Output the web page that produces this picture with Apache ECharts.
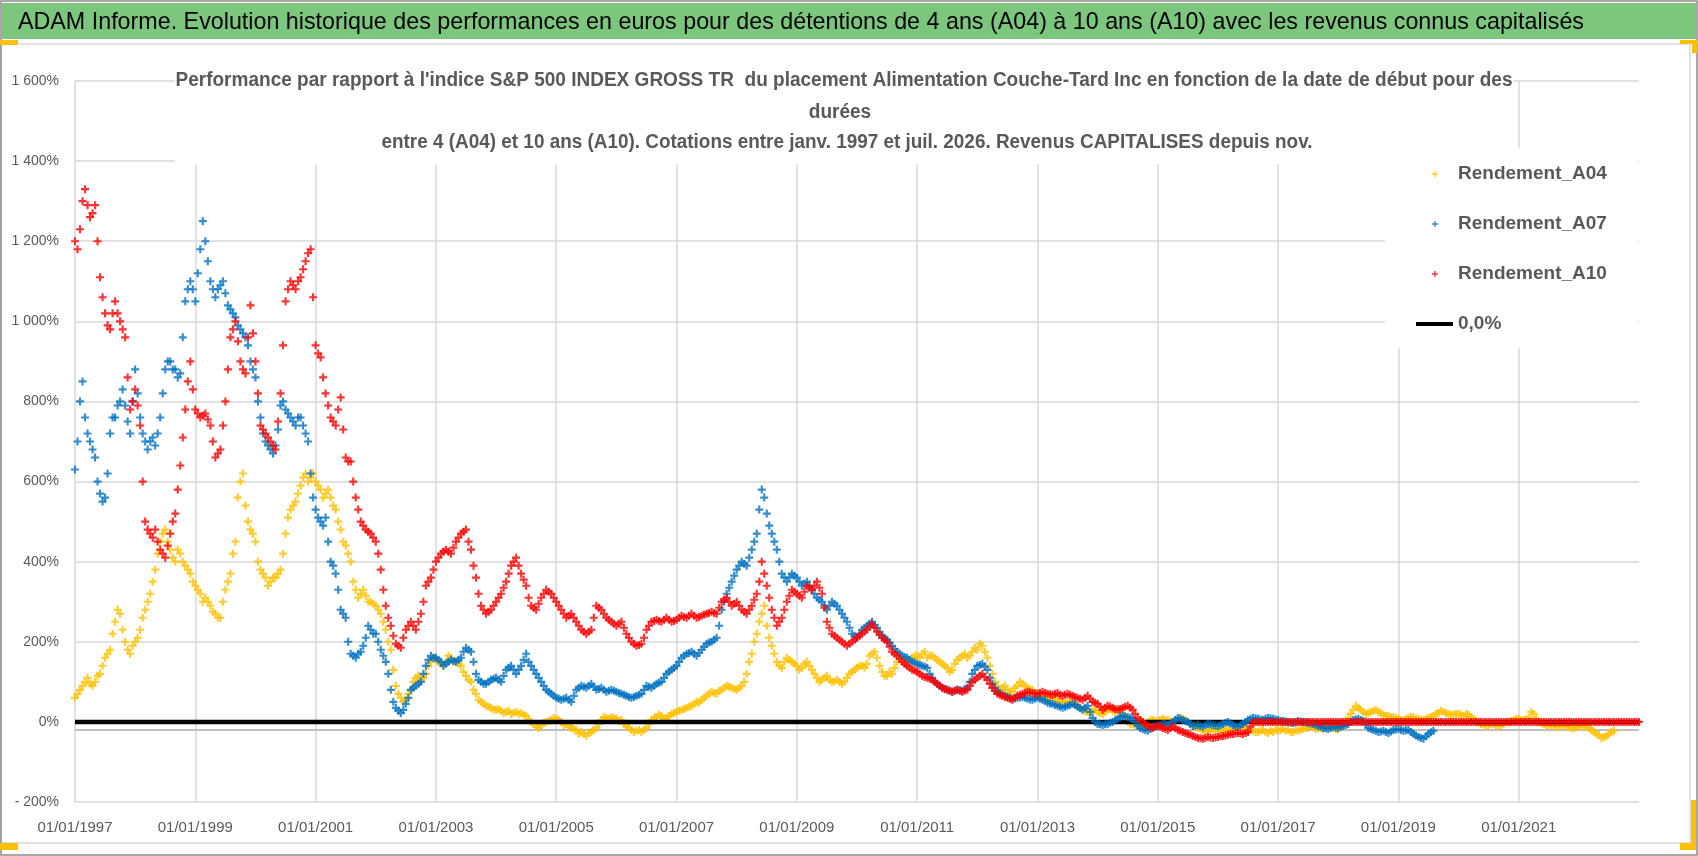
<!DOCTYPE html>
<html><head><meta charset="utf-8">
<script src="https://cdn.jsdelivr.net/npm/echarts@6/dist/echarts.min.js"></script>
<style>html,body{margin:0;padding:0;background:#fff}#c{width:1698px;height:856px}</style>
</head><body><div id="c"></div>
<script>
// ---- data: readings at the start of each month (first = January 1997) and mid-month readings ----
const FIRST_YEAR = 1997;
const LAST_YEAR = 2023;
const xTickYears = [1997,1999,2001,2003,2005,2007,2009,2011,2013,2015,2017,2019,2021];
const yTicks = [-200,0,200,400,600,800,1000,1200,1400,1600];
const AXIS_CROSS = -20;
const ZERO_LEVEL = [0, 0];
const seriesNames = ['Rendement_A04','Rendement_A07','Rendement_A10','0,0%'];

const A04 = [
 60,80,100,95,100,120,160,180,250,270,200,170,
 200,230,280,320,380,450,480,430,400,420,390,370,
 340,320,310,290,270,260,330,370,450,600,540,480,
 450,380,360,350,360,380,470,530,550,590,620,610,
 600,580,570,560,530,480,440,400,330,320,315,300,
 290,270,230,180,90,60,55,80,110,105,120,150,
 155,145,150,160,150,140,115,100,70,50,40,35,
 30,28,25,20,25,22,15,0,-12,-8,0,5,
 8,0,-5,-15,-20,-25,-35,-25,-15,5,10,12,
 8,5,-10,-20,-22,-25,-15,5,12,15,10,20,
 25,30,35,40,50,55,65,75,70,80,90,85,
 80,90,120,170,220,270,240,190,150,135,160,150,
 140,135,150,130,110,105,115,100,105,95,110,125,
 135,140,145,170,160,125,115,120,150,155,150,160,
 165,170,160,165,155,145,135,130,155,165,160,175,
 180,190,160,120,90,85,80,75,90,95,85,80,
 70,65,60,58,55,50,52,48,40,30,25,28,
 25,20,30,28,32,20,0,-5,-8,-5,0,5,
 2,8,5,0,5,8,0,-10,-15,-20,-22,-18,
 -20,-22,-18,-20,-15,-12,-18,-22,-25,-20,-28,-25,
 -22,-18,-20,-25,-22,-18,-15,-12,-15,-18,-12,-15,
 -18,-10,10,30,35,25,22,28,25,18,15,12,
 8,5,10,12,8,5,10,15,22,25,20,18,
 20,15,18,8,-2,-5,-8,-5,-10,-5,0,5,
 8,5,10,20,0,-5,-8,-10,-12,-8,-12,-15,
 -12,-10,-15,-25,-32,-38,-30,-22
];
const A04_MID = [
 70,90,110,90,115,140,170,220,280,230,180,190,
 210,260,300,350,420,470,450,410,430,400,380,350,
 330,300,300,275,260,300,350,420,560,620,500,470,
 400,370,340,360,370,420,510,540,570,610,600,620,
 590,560,580,540,500,450,420,350,310,330,300,295,
 280,250,200,130,70,50,70,100,115,110,140,160,
 150,140,165,150,145,125,105,80,55,45,38,30,
 32,22,28,22,20,18,5,-5,-15,-2,2,10,
 5,-8,-10,-18,-30,-30,-28,-20,-5,12,8,10,
 2,-5,-15,-25,-20,-20,-5,10,18,8,15,22,
 28,32,38,45,48,60,70,72,78,85,88,82,
 85,100,150,200,250,290,210,170,140,150,155,145,
 130,145,140,120,100,110,105,100,100,100,120,130,
 140,135,165,175,140,115,125,135,160,145,155,165,
 160,175,165,160,150,140,125,145,160,170,165,185,
 195,175,140,100,80,90,75,85,100,90,80,72,
 68,62,55,60,52,48,50,42,35,28,22,30,
 22,25,32,25,25,10,-5,-8,-2,-8,5,2,
 5,5,2,3,10,5,-5,-12,-18,-25,-18,-22,
 -18,-20,-22,-15,-18,-15,-20,-25,-22,-25,-22,-20,
 -20,-22,-25,-20,-20,-15,-10,-18,-15,-15,-10,-18,
 -12,0,20,40,30,20,25,30,22,15,12,10,
 5,8,12,8,5,8,12,20,28,22,18,20,
 18,20,12,2,-5,-10,-5,-8,-8,0,2,8,
 5,8,25,8,-2,-10,-8,-12,-10,-10,-15,-12,
 -10,-12,-20,-30,-40,-35,-25
];
const A07 = [
 630,800,760,700,660,570,560,720,760,800,790,720,
 880,760,700,700,690,760,880,900,880,870,1050,1100,
 1050,1180,1200,1100,1060,1090,1070,1030,1010,980,960,900,
 860,760,700,680,690,790,780,760,740,760,720,620,
 530,500,510,400,370,280,260,170,160,175,210,230,
 220,180,150,80,35,22,45,80,90,100,140,165,
 160,150,145,155,150,160,185,175,120,100,95,105,
 110,100,130,140,120,140,170,140,120,100,80,70,
 60,55,60,50,80,90,85,95,80,85,75,80,
 75,70,65,60,65,70,90,85,95,100,120,130,
 140,160,170,175,165,180,195,200,210,280,320,350,
 380,400,390,430,470,580,520,470,430,370,350,370,
 360,340,350,330,310,300,280,300,290,270,250,220,
 210,230,240,250,235,215,205,190,175,165,160,150,
 145,140,135,110,95,85,80,75,80,78,85,120,
 140,145,130,95,75,68,62,58,60,62,58,55,
 60,55,48,45,40,35,40,45,38,30,40,10,
 -5,-8,-5,0,8,15,12,8,-10,-18,-22,-12,
 -10,-5,-8,0,10,5,0,-10,-8,-12,-5,-8,
 -10,-5,0,-8,-12,-5,5,10,8,5,10,8,
 5,2,0,-3,2,0,-2,-5,-10,-15,-18,-12,
 -15,-10,-5,5,8,2,-15,-20,-25,-22,-28,-20,
 -18,-22,-20,-30,-38,-42,-30,-22
];
const A07_MID = [
 700,850,720,680,600,550,620,760,790,830,750,800,
 820,720,680,710,720,820,900,880,860,960,1080,1080,
 1120,1250,1150,1080,1080,1100,1040,1020,990,970,940,880,
 800,720,690,670,730,800,770,750,760,740,700,560,
 510,490,450,390,330,270,200,165,170,190,240,220,
 200,165,120,50,28,30,60,85,95,120,155,160,
 155,140,150,152,155,175,180,150,105,95,100,108,
 105,115,135,130,130,155,150,130,110,90,75,65,
 58,58,55,65,85,88,90,88,82,80,78,78,
 72,68,62,62,68,80,88,90,98,110,125,135,
 150,165,172,170,172,188,198,205,240,300,335,365,
 390,395,410,450,530,560,490,450,400,360,360,365,
 350,345,340,320,305,290,290,295,280,260,235,215,
 220,235,245,242,225,210,198,182,170,162,155,148,
 142,138,120,100,90,82,78,78,79,82,100,130,
 142,138,110,85,72,65,60,59,61,60,56,58,
 58,52,46,42,38,38,42,42,34,35,25,0,
 -6,-6,-2,4,12,14,10,0,-15,-20,-18,-11,
 -8,-6,-4,5,8,2,-5,-9,-10,-8,-6,-9,
 -8,-2,-4,-10,-8,0,8,9,6,8,9,6,
 3,1,-2,0,1,-1,-4,-8,-12,-16,-15,-14,
 -12,-8,0,6,5,-6,-18,-22,-24,-25,-24,-19,
 -20,-21,-25,-34,-40,-36,-26
];
const A10 = [
 1200,1230,1330,1260,1290,1110,1020,980,1050,1000,960,780,
 830,740,500,470,480,430,410,470,520,640,780,900,
 780,760,770,740,660,680,800,960,1000,900,870,1040,
 900,740,720,700,680,820,1050,1100,1080,1110,1150,1180,
 940,910,820,760,740,810,660,650,560,500,480,470,
 450,380,290,240,195,185,230,250,230,270,340,360,
 400,420,430,420,450,470,480,430,360,290,270,280,
 300,320,350,390,410,370,340,290,280,310,330,320,
 300,280,260,270,250,230,220,230,290,280,260,250,
 240,250,220,200,190,195,230,250,255,250,260,250,
 255,265,260,270,260,265,270,275,270,300,310,290,
 300,280,270,290,320,400,340,280,240,260,300,330,
 320,310,340,330,350,320,250,220,210,200,190,200,
 210,220,230,245,225,210,200,175,165,150,140,130,
 125,115,110,105,95,85,80,75,80,75,80,100,
 110,120,105,85,70,65,60,55,65,70,75,72,
 70,75,70,68,72,65,70,65,60,55,65,50,
 45,30,40,35,30,35,40,30,10,0,-10,-15,
 -10,-15,-20,-12,-20,-25,-30,-35,-40,-42,-38,-40,
 -38,-35,-32,-30,-28,-30,-25,0,0,0,0,0,
 0,0,0,0,0,0,0,0,0,0,0,0,
 0,0,0,0,0,0,0,0,0,0,0,0,
 0,0,0,0,0,0,0,0,0,0,0,0,
 0,0,0,0,0,0,0,0,0,0,0,0,
 0,0,0,0,0,0,0,0,0,0,0,0,
 0,0,0,0,0,0,0,0,0,0,0,0,
 0
];
const A10_MID = [
 1180,1300,1290,1270,1200,1060,990,1020,1020,980,860,800,
 790,600,480,460,450,420,440,500,580,710,850,830,
 770,765,755,700,670,740,880,980,950,880,960,970,
 820,730,710,690,750,940,1080,1090,1100,1130,1170,1060,
 920,860,790,750,780,730,650,600,530,490,475,460,
 420,330,260,215,190,210,240,240,250,300,350,380,
 410,425,425,435,460,475,450,390,320,280,275,290,
 310,335,370,400,390,355,310,285,295,320,325,310,
 290,270,265,260,240,225,225,260,285,270,255,245,
 245,235,210,195,192,210,240,252,252,255,255,252,
 260,262,265,265,262,268,272,272,285,305,300,295,
 290,275,280,305,350,370,310,260,250,280,315,325,
 315,325,335,340,335,285,235,215,205,195,195,205,
 215,225,238,235,218,205,188,170,158,145,135,128,
 120,112,108,100,90,82,78,78,78,78,90,105,
 115,112,95,78,68,62,58,60,68,72,74,71,
 72,72,69,70,68,68,68,62,58,60,58,48,
 38,35,38,32,32,38,35,20,5,-5,-12,-12,
 -12,-18,-16,-16,-22,-28,-32,-38,-41,-40,-39,-39,
 -36,-34,-31,-29,-29,-28,-12,0,0,0,0,0,
 0,0,0,0,0,0,0,0,0,0,0,0,
 0,0,0,0,0,0,0,0,0,0,0,0,
 0,0,0,0,0,0,0,0,0,0,0,0,
 0,0,0,0,0,0,0,0,0,0,0,0,
 0,0,0,0,0,0,0,0,0,0,0,0,
 0,0,0,0,0,0,0,0,0,0,0,0
];

const TITLE = "ADAM Informe. Evolution historique des performances en euros pour des détentions de 4 ans (A04) à 10 ans (A10) avec les revenus connus capitalisés";
const SUB1 = "Performance par rapport à l'indice S&P 500 INDEX GROSS TR  du placement Alimentation Couche-Tard Inc en fonction de la date de début pour des";
const SUB2 = "durées";
const SUB3 = "entre 4 (A04) et 10 ans (A10). Cotations entre janv. 1997 et juil. 2026. Revenus CAPITALISES depuis nov.";

// ---- helpers ----
const toPoints = (start, mid) => start.map((v, i) => [i / 12, v]).concat(mid.map((v, i) => [(i + 0.5) / 12, v]));
const ctx = document.createElement('canvas').getContext('2d');
function textW(t, font) { ctx.font = font; return ctx.measureText(t).width; }
function fmtPct(v) {
  const a = Math.abs(v);
  const s = a >= 1000 ? Math.floor(a / 1000) + '\u00a0' + String(a % 1000).padStart(3, '0') : String(a);
  return (v < 0 ? '-\u00a0' : '') + s + '%';
}
const FF = "'Liberation Sans', Arial, sans-serif";
const titleFont = "24px 'Liberation Sans'";
const subFont = "bold 20px 'Liberation Sans'";
const titleScale = 1566 / textW(TITLE, titleFont);
const sub1Scale = 1337 / textW(SUB1, subFont);
const sub3Scale = 931 / textW(SUB3, subFont);

const PLUS = 'path://M3 0H5.2V3H8.2V5.2H5.2V8.2H3V5.2H0V3H3Z';
const PLUS_ICON = 'path://M0 0M37 14M18.3 4H19.7V6.3H22V7.7H19.7V10H18.3V7.7H16V6.3H18.3Z';
const LINE_ICON = 'path://M0 0M37 14M0 5H37V9H0Z';

const chart = echarts.init(document.getElementById('c'), null, {renderer: 'canvas'});
const xMin = 0, xMax = LAST_YEAR - FIRST_YEAR;

chart.setOption({
  animation: false,
  backgroundColor: '#ffffff',
  grid: {left: 75, right: 59, top: 81, bottom: 54, containLabel: false},
  xAxis: {
    type: 'value', min: xMin, max: xMax, interval: xTickYears[1] - xTickYears[0],
    axisLine: {show: false}, axisTick: {show: false},
    splitLine: {show: true, showMaxLine: false, lineStyle: {color: '#d9d9d9', width: 1.5}},
    axisLabel: {
      showMaxLabel: false, margin: 18, color: '#595959', fontSize: 15, fontFamily: FF,
      formatter: v => xTickYears.includes(FIRST_YEAR + v) ? '01/01/' + (FIRST_YEAR + v) : ''
    }
  },
  yAxis: {
    type: 'value', min: yTicks[0], max: yTicks[yTicks.length - 1], interval: yTicks[1] - yTicks[0],
    axisLine: {show: false}, axisTick: {show: false},
    splitLine: {show: true, lineStyle: {color: '#d9d9d9', width: 1.5}},
    axisLabel: {margin: 16, color: '#595959', fontSize: 14, fontFamily: FF, formatter: fmtPct}
  },
  legend: {
    orient: 'vertical', left: 1385, top: 148, padding: [14, 31, 12, 31],
    itemGap: 26, itemWidth: 37, itemHeight: 14, backgroundColor: '#ffffff',
    itemStyle: {borderWidth: 0},
    textStyle: {fontSize: 19, fontWeight: 'bold', color: '#595959', fontFamily: FF, lineHeight: 24},
    data: [
      {name: seriesNames[0], icon: PLUS_ICON},
      {name: seriesNames[1], icon: PLUS_ICON},
      {name: seriesNames[2], icon: PLUS_ICON},
      {name: seriesNames[3], icon: LINE_ICON}
    ]
  },
  series: [
    {
      name: seriesNames[0], type: 'scatter', z: 2, symbol: PLUS, symbolSize: 8,
      itemStyle: {color: '#FFC000'}, data: toPoints(A04, A04_MID),
      markLine: {silent: true, symbol: 'none', label: {show: false}, z: 1,
        lineStyle: {color: '#bfbfbf', width: 2, type: 'solid'}, data: [{yAxis: AXIS_CROSS}]}
    },
    {
      name: seriesNames[3], type: 'line', z: 3, symbol: 'none',
      lineStyle: {color: '#000000', width: 4.5}, itemStyle: {color: '#000000'},
      data: [[xMin, ZERO_LEVEL[0]], [xMax, ZERO_LEVEL[1]]]
    },
    {
      name: seriesNames[1], type: 'scatter', z: 4, symbol: PLUS, symbolSize: 8,
      itemStyle: {color: '#0070C0'}, data: toPoints(A07, A07_MID)
    },
    {
      name: seriesNames[2], type: 'scatter', z: 5, symbol: PLUS, symbolSize: 8,
      itemStyle: {color: '#FF0000'}, data: toPoints(A10, A10_MID)
    }
  ],
  graphic: [
    {type: 'rect', z: 1, silent: true, shape: {x: 175, y: 64, width: 1338, height: 100}, style: {fill: '#ffffff'}},
    {type: 'rect', z: 20, silent: true, shape: {x: 1, y: 44, width: 1689, height: 799}, style: {fill: 'none', stroke: '#d9d9d9', lineWidth: 1.5}},
    {type: 'rect', z: 20, silent: true, shape: {x: 1, y: 1, width: 1696, height: 854}, style: {fill: 'none', stroke: '#8c8c8c', lineWidth: 1.5}},
    {type: 'rect', z: 20, silent: true, shape: {x: 2, y: 3, width: 1694, height: 36}, style: {fill: '#7dc67e'}},
    {type: 'text', z: 21, silent: true, x: 18, y: 22, scaleX: titleScale,
      style: {text: TITLE, font: titleFont, fill: '#000000', textAlign: 'left', textVerticalAlign: 'middle'}},
    {type: 'text', z: 21, silent: true, x: 844, y: 80, scaleX: sub1Scale,
      style: {text: SUB1, font: subFont, fill: '#595959', textAlign: 'center', textVerticalAlign: 'middle'}},
    {type: 'text', z: 21, silent: true, x: 840, y: 112, scaleX: sub1Scale,
      style: {text: SUB2, font: subFont, fill: '#595959', textAlign: 'center', textVerticalAlign: 'middle'}},
    {type: 'text', z: 21, silent: true, x: 847, y: 142, scaleX: sub3Scale,
      style: {text: SUB3, font: subFont, fill: '#595959', textAlign: 'center', textVerticalAlign: 'middle'}},
    // selection handles
    {type: 'rect', z: 22, silent: true, shape: {x: 0, y: 40, width: 18, height: 5}, style: {fill: '#FFC000'}},
    {type: 'rect', z: 22, silent: true, shape: {x: 0, y: 843, width: 18, height: 7}, style: {fill: '#FFC000'}},
    {type: 'rect', z: 22, silent: true, shape: {x: 1680, y: 40, width: 18, height: 4}, style: {fill: '#FFC000'}},
    {type: 'rect', z: 22, silent: true, shape: {x: 1692, y: 40, width: 5, height: 13}, style: {fill: '#FFC000'}},
    {type: 'rect', z: 22, silent: true, shape: {x: 1691, y: 800, width: 5, height: 50}, style: {fill: '#FFC000'}},
    {type: 'rect', z: 22, silent: true, shape: {x: 1680, y: 843, width: 16, height: 7}, style: {fill: '#FFC000'}}
  ]
});
</script>
</body></html>
